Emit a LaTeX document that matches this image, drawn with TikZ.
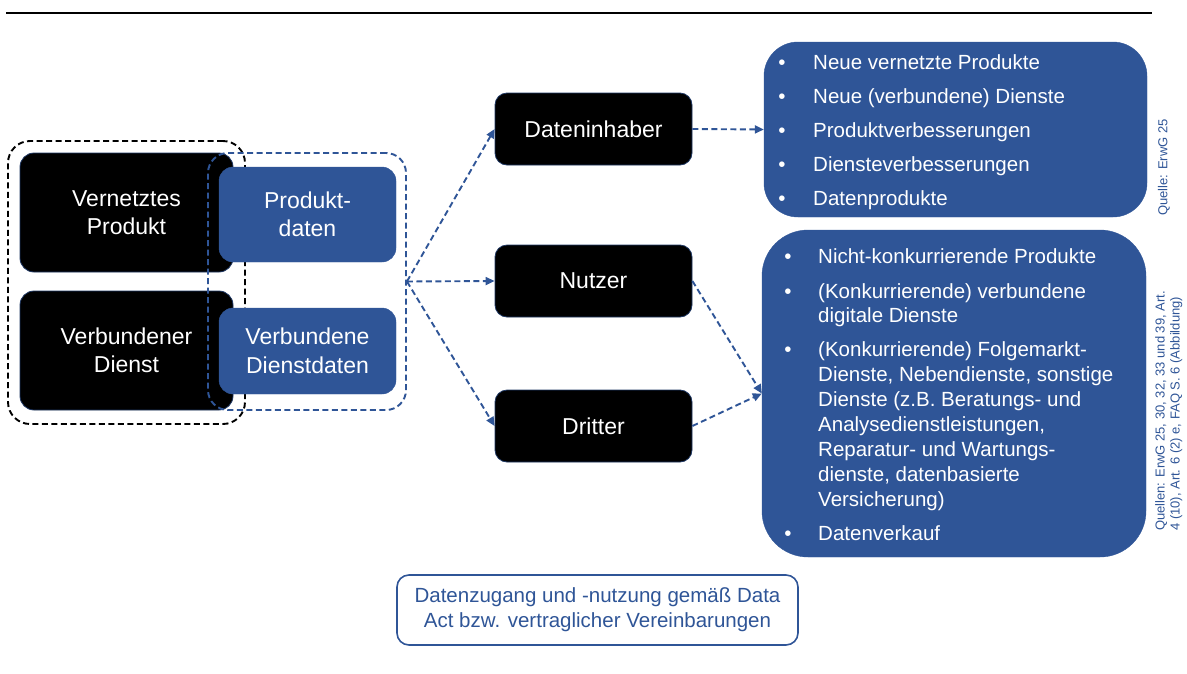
\documentclass[tikz,border=0pt]{standalone}
\usepackage{fontspec}
\setmainfont{Liberation Sans}
\usetikzlibrary{arrows.meta}
\definecolor{dblue}{HTML}{2F5597}
\definecolor{navy}{HTML}{1F3864}
\begin{document}
\begin{tikzpicture}[x=1pt,y=-1pt,
  blackbox/.style={fill=black,draw=navy,line width=0.8pt,rounded corners=14pt,inner sep=0pt,text=white,align=center,font=\fontsize{23}{28.5}\selectfont},
  bluebox/.style={fill=dblue,draw=dblue,rounded corners=14pt,inner sep=0pt,text=white,align=center,font=\fontsize{23}{28.5}\selectfont},
  listbox/.style={fill=dblue,draw=dblue,inner sep=0pt},
  litem/.style={anchor=base west,inner sep=0pt,text=white,font=\fontsize{20.5}{25}\selectfont},
  lbullet/.style={anchor=base,inner sep=0pt,text=white,font=\fontsize{20.5}{25}\selectfont},
  flow/.style={dblue,line width=1.9pt,dash pattern=on 6pt off 3.5pt,-{Triangle[length=9pt,width=8pt]}},
  srcnote/.style={rotate=90,inner sep=0pt,text=dblue,align=left,font=\fontsize{13}{15}\selectfont}
]
\useasboundingbox (0,0) rectangle (1187,673);
% top rule
\coordinate (r1) at (6,13);
\coordinate (r2) at (1152,13);
\draw[line width=2.4pt] (r1) -- (r2);

% left group
\node[draw=black,line width=1.9pt,dash pattern=on 6pt off 3.5pt,rounded corners=22pt,minimum width=237pt,minimum height=283pt,inner sep=0pt] (bgroup) at (126.5,282.5) {};
\node[blackbox,minimum width=213pt,minimum height=119pt] (vp) at (126.5,212.5) {Vernetztes\\Produkt};
\node[blackbox,minimum width=213pt,minimum height=119pt] (vd) at (126.5,350.5) {Verbundener\\Dienst};
\node[draw=dblue,line width=1.9pt,dash pattern=on 6pt off 3.5pt,rounded corners=20pt,minimum width=198pt,minimum height=257pt,inner sep=0pt] (lgroup) at (307,281.5) {};
\node[bluebox,minimum width=177pt,minimum height=95pt] (pd) at (307.5,214.5) {Produkt-\\daten};
\node[bluebox,minimum width=177pt,minimum height=86pt] (dd) at (307.5,351) {Verbundene\\Dienstdaten};

% middle
\node[blackbox,minimum width=197pt,minimum height=72pt,rounded corners=12pt] (dat) at (593.5,129) {Dateninhaber};
\node[blackbox,minimum width=197pt,minimum height=72pt,rounded corners=12pt] (nutz) at (593.5,281) {Nutzer};
\node[blackbox,minimum width=197pt,minimum height=72pt,rounded corners=12pt] (dritt) at (593.5,426) {Dritter};

% right lists
\node[listbox,rounded corners=34pt,minimum width=383pt,minimum height=175pt] (list1) at (955.5,129.5) {};
\node[listbox,rounded corners=46pt,minimum width=384pt,minimum height=327pt] (list2) at (954,393.5) {};

\foreach \yy/\tt in {62/Neue vernetzte Produkte,96/Neue (verbundene) Dienste,130/Produktverbesserungen,164/Diensteverbesserungen,198/Datenprodukte}{
  \node[lbullet] at (782,\yy+7.3) {•};
  \node[litem] at (813,\yy+7.3) {\tt};
}
\foreach \yy in {256,291,349,533}{
  \node[lbullet] at (788,\yy+7.3) {•};
}
\foreach \yy/\tt in {256/Nicht-konkurrierende Produkte,291/(Konkurrierende) verbundene,315.5/digitale Dienste,349/(Konkurrierende) Folgemarkt-,374/{Dienste, Nebendienste, sonstige},399/Dienste (z.B. Beratungs- und,424.5/{Analysedienstleistungen,},449.5/Reparatur- und Wartungs-,474.5/{dienste, datenbasierte},499.5/Versicherung),533/Datenverkauf}{
  \node[litem] at (818,\yy+7.3) {\tt};
}

% sources
\node[srcnote,anchor=west] (q1) at (1164,216) {Quelle: ErwG 25};
\node[srcnote,anchor=north west] (q2) at (1155,531) {Quellen: ErwG 25, 30, 32, 33 und 39, Art.\\4 (10), Art. 6 (2) e, FAQ S. 6 (Abbildung)};

% note
\node[draw=dblue,line width=1.6pt,rounded corners=12pt,minimum width=401pt,minimum height=70pt,inner sep=0pt,text=dblue,align=center,font=\fontsize{20.5}{25}\selectfont] (note) at (597.5,610) {Datenzugang und -nutzung gemäß Data\\Act bzw. vertraglicher Vereinbarungen};

% connectors
\draw[flow] (lgroup.east) -- (dat.west);
\draw[flow] (lgroup.east) -- (nutz.west);
\draw[flow] (lgroup.east) -- (dritt.west);
\draw[flow] (dat.east) -- (list1.west);
\draw[flow] (nutz.east) -- (list2.west);
\draw[flow] (dritt.east) -- (list2.west);
\end{tikzpicture}
\end{document}
